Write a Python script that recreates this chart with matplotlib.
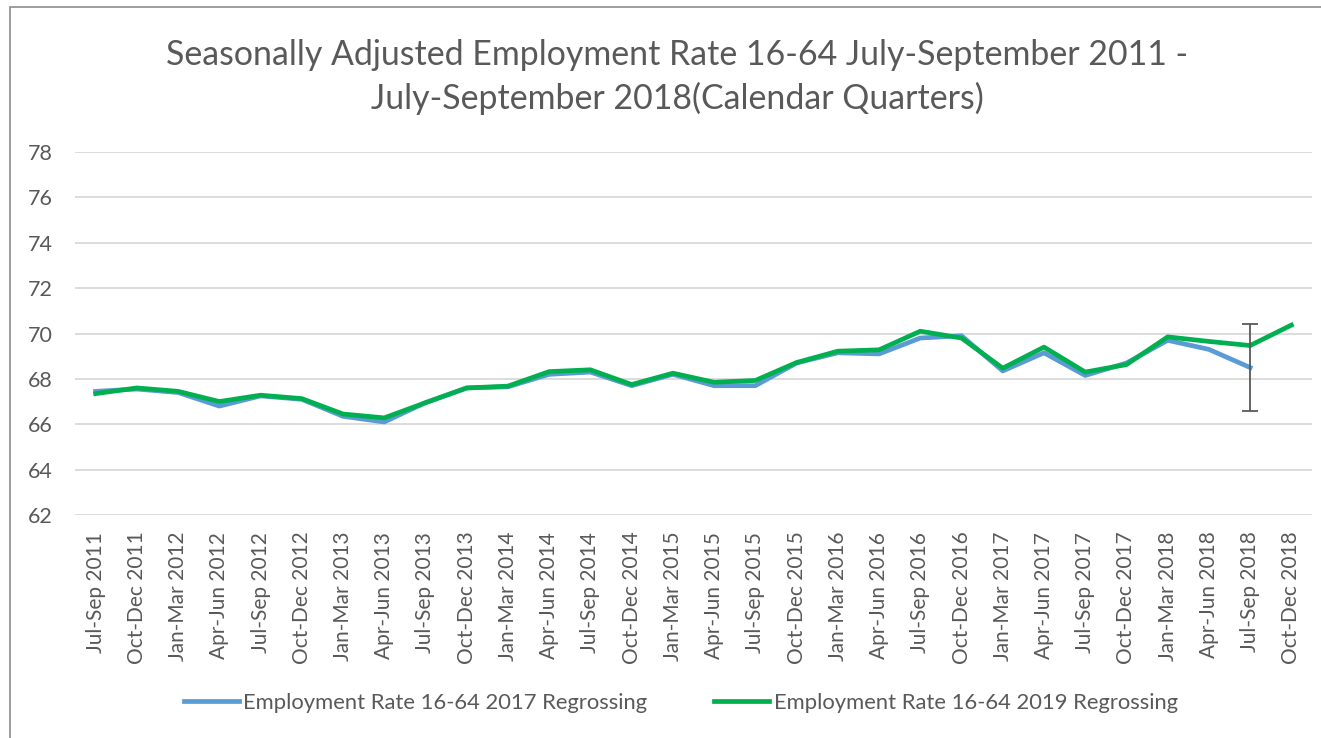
import matplotlib
matplotlib.use("Agg")
import matplotlib.pyplot as plt
from matplotlib.patches import Rectangle

plt.rcParams['font.family'] = ['Lato', 'DejaVu Sans']

quarters = ["Jul-Sep 2011", "Oct-Dec 2011", "Jan-Mar 2012", "Apr-Jun 2012", "Jul-Sep 2012",
            "Oct-Dec 2012", "Jan-Mar 2013", "Apr-Jun 2013", "Jul-Sep 2013", "Oct-Dec 2013",
            "Jan-Mar 2014", "Apr-Jun 2014", "Jul-Sep 2014", "Oct-Dec 2014", "Jan-Mar 2015",
            "Apr-Jun 2015", "Jul-Sep 2015", "Oct-Dec 2015", "Jan-Mar 2016", "Apr-Jun 2016",
            "Jul-Sep 2016", "Oct-Dec 2016", "Jan-Mar 2017", "Apr-Jun 2017", "Jul-Sep 2017",
            "Oct-Dec 2017", "Jan-Mar 2018", "Apr-Jun 2018", "Jul-Sep 2018", "Oct-Dec 2018"]

rate_2017 = [67.45, 67.55, 67.4, 66.8, 67.25, 67.1, 66.35, 66.1, 66.95, 67.6,
             67.65, 68.2, 68.3, 67.7, 68.2, 67.7, 67.7, 68.7, 69.15, 69.1,
             69.8, 69.9, 68.35, 69.15, 68.15, 68.7, 69.7, 69.3, 68.5]

rate_2019 = [67.35, 67.6, 67.45, 67.0, 67.28, 67.13, 66.45, 66.28, 66.95, 67.6,
             67.68, 68.32, 68.4, 67.75, 68.25, 67.85, 67.93, 68.72, 69.22, 69.28,
             70.1, 69.8, 68.47, 69.4, 68.3, 68.63, 69.85, 69.65, 69.47, 70.37]

err_last = 1.9

txt = '#595959'
fig = plt.figure(figsize=(13.21, 7.38), dpi=100)
ax = fig.add_axes([75/1321, 1 - 515/738, (1312 - 75)/1321, (515 - 152)/738])

x17 = list(range(len(rate_2017)))
x19 = list(range(len(rate_2019)))
ax.plot(x17, rate_2017, color='#5B9BD5', lw=3.4, solid_joinstyle='round',
        label='Employment Rate 16-64 2017 Regrossing', zorder=3)
ax.plot(x19, rate_2019, color='#00B050', lw=3.4, solid_joinstyle='round',
        label='Employment Rate 16-64 2019 Regrossing', zorder=4)
ax.errorbar(x17[-1], rate_2017[-1], yerr=err_last, fmt='none', ecolor='#595959',
            elinewidth=1.3, capsize=6, capthick=1.3, zorder=5)

ax.set_ylim(62, 78)
ax.set_xlim(-0.5, len(quarters) - 0.5)
ax.set_yticks(range(62, 79, 2))
ax.set_xticks(x19)
ax.set_xticklabels(quarters, rotation=90)
ax.grid(axis='y', color='#d9d9d9', lw=1.3)
ax.set_axisbelow(True)
for s in ax.spines.values():
    s.set_visible(False)
ax.tick_params(axis='y', length=0, pad=16, labelsize=15.5, labelcolor=txt)
ax.tick_params(axis='x', length=0, pad=12, labelsize=15, labelcolor=txt)

fig.text(677/1321, 1 - 65/738, 'Seasonally Adjusted Employment Rate 16-64 July-September 2011 -',
         ha='center', va='baseline', fontsize=24.4, color=txt)
fig.text(677/1321, 1 - 109/738, 'July-September 2018(Calendar Quarters)',
         ha='center', va='baseline', fontsize=24.4, color=txt)

fig.legend(loc='center', bbox_to_anchor=(681/1321, 1 - 703/738), ncol=2, frameon=False,
           fontsize=15.8, labelcolor=txt, handlelength=2.5, handletextpad=0.22,
           columnspacing=3.05)

fig.patches.append(Rectangle((10/1321, -0.1), 1.1, 1 - 7/738 + 0.1, transform=fig.transFigure,
                             fill=False, edgecolor='#8c8c8c', lw=1.2))

fig.savefig('out.png', dpi=100)
